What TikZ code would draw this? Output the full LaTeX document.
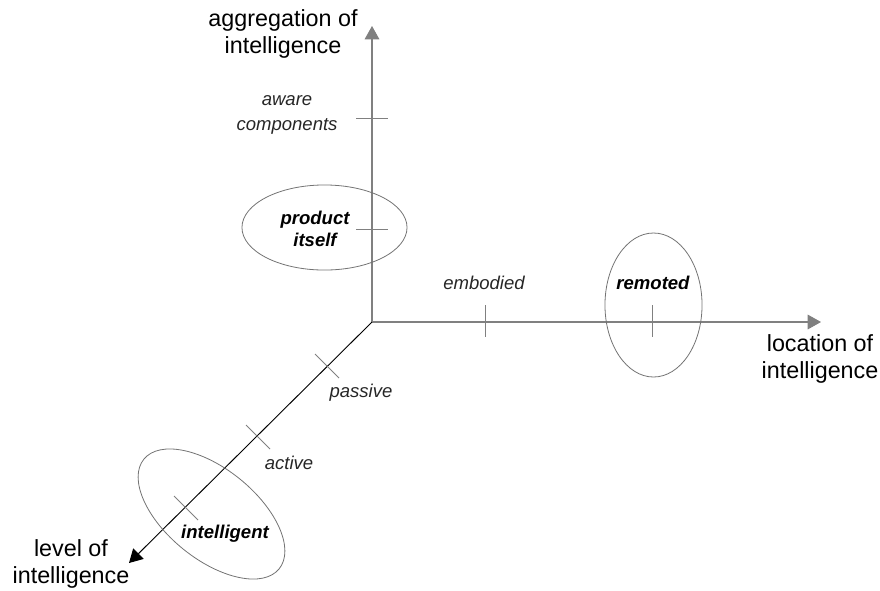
\documentclass[tikz,border=0pt]{standalone}
\usepackage{fontspec}
\setmainfont{Liberation Sans}
\usetikzlibrary{arrows.meta}

\begin{document}
\begin{tikzpicture}[x=0.75pt,y=-0.75pt,
axis/.style={%
draw=black!50,
line width=0.8pt,
-{Triangle[length=10pt,width=11pt]},
},
depthaxis/.style={%
draw=black,
line width=0.7pt,
-{Triangle[length=10pt,width=11pt]},
},
tickmark/.style={%
draw=black!50,
line width=0.7pt,
},
ring/.style={%
draw=black!55,
line width=0.6pt,
},
title/.style={%
align=center,
font=\fontsize{17.5}{20.25}\selectfont,
},
lvl/.style={%
align=center,
text=black!85,
font=\fontsize{13.9}{18.75}\selectfont\itshape,
},
pick/.style={%
align=center,
font=\fontsize{13.9}{16.5}\selectfont\bfseries\itshape,
},
]
\useasboundingbox (0,0) rectangle (880,590);
%% Axes
\coordinate (O) at (372,322);
\coordinate (aggTip) at (372,26);
\coordinate (locTip) at (821,322);
\coordinate (lvlTip) at (129,563);
\draw[axis] (O)--(aggTip);
\draw[axis] (O)--(locTip);
\draw[depthaxis] (O)--(lvlTip);
\node[title](aggLabel)at(283,34){aggregation of\\intelligence};
\node[title](locLabel)at(820,359){location of\\intelligence};
\node[title](lvlLabel)at(71,564){level of\\intelligence};
%% Ticks
\foreach \y in {118,229}{%
\draw[tickmark] (356,\y)--(388,\y);
}
\foreach \x in {485,652}{%
\draw[tickmark] (\x,305)--(\x,337);
}
\foreach \x/\y in {327/366,258/437,186/508}{%
\draw[tickmark] (\x-12,\y-12)--(\x+12,\y+12);
}
%% Labels
\node[lvl](aware)at(287,114.5){aware\\components};
\node[pick](product)at(315,229){product\\itself};
\node[lvl](embodied)at(484,283){embodied};
\node[pick](remoted)at(653,283){remoted};
\node[lvl](passive)at(361,393){passive};
\node[lvl](active)at(289,463){active};
\node[pick](intel)at(225,534){intelligent};
%% Rings
\draw[ring] (324.5,227.5) ellipse [x radius=61.9pt, y radius=31.9pt];
\draw[ring] (653.5,305) ellipse [x radius=36.4pt, y radius=54pt];
\coordinate (intelC) at (211.5,514);
\draw[ring,rotate around={-39:(intelC)}] (intelC) ellipse [x radius=65.3pt, y radius=33.8pt];
\end{tikzpicture}
\end{document}
